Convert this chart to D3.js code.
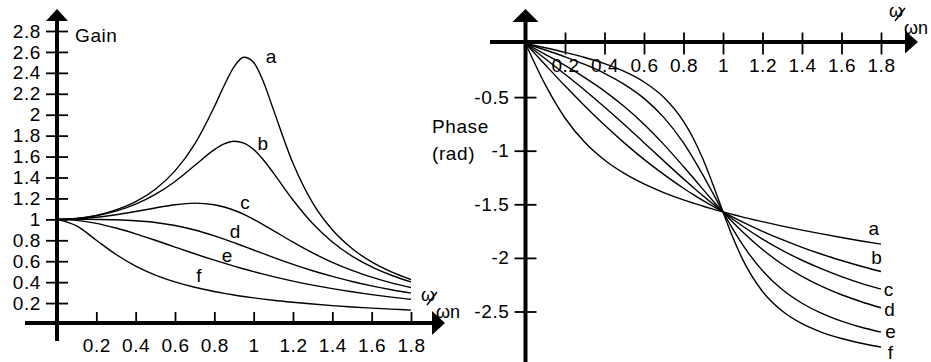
<!DOCTYPE html>
<html>
<head>
<meta charset="utf-8">
<script src="https://cdn.jsdelivr.net/npm/d3@7"></script>
<style>
  html, body { margin: 0; padding: 0; background: #fff; }
  svg { display: block; }
  text { font-family: "Liberation Sans", Arial, sans-serif; fill: #000; }
</style>
</head>
<body>
<svg id="chart" width="931" height="362"></svg>
<script>
// ---------- data ----------
const ratio = [0, 0.1, 0.2, 0.3, 0.4, 0.5, 0.6, 0.7, 0.8, 0.85, 0.9, 0.95, 1.0, 1.05, 1.1, 1.2, 1.3, 1.4, 1.5, 1.6, 1.7, 1.8];

const gainA = [1, 1.009, 1.038, 1.090, 1.169, 1.288, 1.463, 1.719, 2.076, 2.279, 2.457, 2.549, 2.5, 2.313, 2.051, 1.536, 1.157, 0.900, 0.721, 0.593, 0.498, 0.425];
const gainB = [1, 1.008, 1.034, 1.078, 1.145, 1.238, 1.362, 1.514, 1.667, 1.722, 1.747, 1.729, 1.667, 1.567, 1.444, 1.185, 0.960, 0.784, 0.649, 0.546, 0.466, 0.402];
const gainC = [1, 1.005, 1.020, 1.044, 1.075, 1.109, 1.140, 1.155, 1.140, 1.118, 1.087, 1.047, 1.0, 0.948, 0.893, 0.782, 0.679, 0.589, 0.512, 0.448, 0.393, 0.348];
const gainD = [1, 1.0, 0.999, 0.996, 0.987, 0.970, 0.941, 0.898, 0.842, 0.811, 0.777, 0.742, 0.707, 0.672, 0.637, 0.570, 0.509, 0.455, 0.406, 0.364, 0.327, 0.295];
const gainE = [1, 0.990, 0.962, 0.917, 0.862, 0.8, 0.735, 0.671, 0.610, 0.581, 0.553, 0.526, 0.5, 0.476, 0.453, 0.410, 0.372, 0.338, 0.308, 0.281, 0.257, 0.236];
const gainF = [1, 0.937, 0.800, 0.664, 0.553, 0.468, 0.403, 0.351, 0.311, 0.293, 0.277, 0.263, 0.25, 0.238, 0.227, 0.208, 0.191, 0.176, 0.163, 0.152, 0.142, 0.133];

const phaseA = [0, -0.384, -0.695, -0.922, -1.087, -1.212, -1.310, -1.391, -1.459, -1.489, -1.518, -1.545, -1.571, -1.595, -1.619, -1.662, -1.703, -1.741, -1.776, -1.810, -1.842, -1.872];
const phaseB = [0, -0.199, -0.395, -0.583, -0.761, -0.927, -1.081, -1.221, -1.350, -1.409, -1.466, -1.520, -1.571, -1.620, -1.666, -1.752, -1.830, -1.901, -1.966, -2.024, -2.078, -2.127];
const phaseC = [0, -0.142, -0.287, -0.436, -0.593, -0.756, -0.925, -1.095, -1.263, -1.344, -1.423, -1.498, -1.571, -1.640, -1.705, -1.825, -1.930, -2.022, -2.103, -2.174, -2.237, -2.292];
const phaseD = [0, -0.101, -0.205, -0.319, -0.444, -0.588, -0.753, -0.941, -1.148, -1.255, -1.363, -1.469, -1.571, -1.668, -1.759, -1.922, -2.059, -2.172, -2.266, -2.344, -2.409, -2.465];
const phaseE = [0, -0.061, -0.124, -0.195, -0.278, -0.381, -0.512, -0.689, -0.927, -1.073, -1.232, -1.401, -1.571, -1.732, -1.879, -2.119, -2.295, -2.423, -2.518, -2.590, -2.647, -2.692];
const phaseF = [0, -0.040, -0.083, -0.131, -0.188, -0.261, -0.359, -0.502, -0.727, -0.886, -1.085, -1.320, -1.571, -1.810, -2.016, -2.313, -2.496, -2.614, -2.694, -2.752, -2.796, -2.831];

const curveNames = ["a", "b", "c", "d", "e", "f"];
const gainSeries = [gainA, gainB, gainC, gainD, gainE, gainF];
const phaseSeries = [phaseA, phaseB, phaseC, phaseD, phaseE, phaseF];

const ratioTicks = [0.2, 0.4, 0.6, 0.8, 1, 1.2, 1.4, 1.6, 1.8];
const gainTicks = [0.2, 0.4, 0.6, 0.8, 1, 1.2, 1.4, 1.6, 1.8, 2, 2.2, 2.4, 2.6, 2.8];
const phaseTicks = [-0.5, -1, -1.5, -2, -2.5];

// ---------- layout (annotation anchors, in data units) ----------
const gainLabelAt = [[1.088, 2.56], [1.047, 1.73], [0.956, 1.166], [0.905, 0.889], [0.864, 0.66], [0.722, 0.468]];
const phaseLabelAt = [[1.763, -1.726], [1.778, -1.996], [1.838, -2.295], [1.843, -2.481], [1.848, -2.687], [1.848, -2.883]];

const svg = d3.select("#chart");
svg.append("rect").attr("width", 931).attr("height", 362).attr("fill", "#fff");

const FS = 19;
const LS = "0.6px";
const fmt = d => String(d);

const xG = d3.scaleLinear().domain([0, 1.8]).range([57, 411]);
const yG = d3.scaleLinear().domain([0, 2.8]).range([324, 31]);
const xP = d3.scaleLinear().domain([0, 1.8]).range([525.5, 881]);
const yP = d3.scaleLinear().domain([0, -2.5]).range([43.5, 311.5]);

function styleAxis(g) {
  g.select(".domain").remove();
  g.selectAll(".tick line").attr("stroke", "#000").attr("stroke-width", 1.8);
  g.selectAll(".tick text").attr("font-size", FS).attr("letter-spacing", LS)
    .attr("font-family", '"Liberation Sans", Arial, sans-serif').attr("fill", "#000");
}

// ---------- LEFT: Gain ----------
const gL = svg.append("g");
const axXL = gL.append("g").attr("transform", `translate(0,${yG(0)})`)
  .call(d3.axisBottom(xG).tickValues(ratioTicks).tickFormat(fmt).tickSizeInner(-12).tickSizeOuter(0).tickPadding(15));
styleAxis(axXL);
const axYL = gL.append("g").attr("transform", `translate(${xG(0)},0)`)
  .call(d3.axisLeft(yG).tickValues(gainTicks).tickFormat(fmt).tickSizeInner(11).tickSizeOuter(0).tickPadding(5));
styleAxis(axYL);
axYL.selectAll(".tick line").attr("x1", 11);

gL.append("line").attr("x1", xG(0)).attr("x2", xG(0)).attr("y1", 341).attr("y2", 18).attr("stroke", "#000").attr("stroke-width", 4);
gL.append("path").attr("d", `M${xG(0)},9 L${xG(0) - 11},21 L${xG(0) + 11},21 Z`).attr("fill", "#000");
gL.append("line").attr("x1", 25).attr("x2", 434).attr("y1", yG(0) - 1).attr("y2", yG(0) - 1).attr("stroke", "#000").attr("stroke-width", 4);
gL.append("path").attr("d", `M445,${yG(0) - 1} L432,${yG(0) - 13} L432,${yG(0) + 11} Z`).attr("fill", "#000");

const lineG = d3.line().x((d, i) => xG(ratio[i])).y(d => yG(d)).curve(d3.curveMonotoneX);
gL.selectAll("path.gain").data(gainSeries).join("path").attr("class", "gain")
  .attr("d", lineG).attr("fill", "none").attr("stroke", "#000").attr("stroke-width", 1.4);

gL.selectAll("text.glab").data(curveNames).join("text").attr("class", "glab")
  .attr("x", (d, i) => xG(gainLabelAt[i][0])).attr("y", (d, i) => yG(gainLabelAt[i][1]))
  .attr("dy", "0.35em").attr("text-anchor", "middle").attr("font-size", FS).text(d => d);

gL.append("text").attr("x", 75).attr("y", 42).attr("font-size", FS).attr("letter-spacing", LS).text("Gain");

function omegaLabel(g, x, y) {
  g.append("text").attr("x", x).attr("y", y).attr("font-size", 18).text("ω");
  g.append("line").attr("x1", x + 6).attr("y1", y + 4).attr("x2", x + 16).attr("y2", y - 9).attr("stroke", "#000").attr("stroke-width", 1.4);
  g.append("text").attr("x", x + 15).attr("y", y + 17).attr("font-size", 18).text("ωn");
}
omegaLabel(gL, 421, 301);

// ---------- RIGHT: Phase ----------
const gR = svg.append("g");
const axXR = gR.append("g").attr("transform", `translate(0,${yP(0)})`)
  .call(d3.axisBottom(xP).tickValues(ratioTicks).tickFormat(fmt).tickSizeInner(11).tickSizeOuter(0).tickPadding(4));
styleAxis(axXR);
axXR.selectAll(".tick line").attr("y1", -11);

const axYR = gR.append("g").attr("transform", `translate(${xP(0)},0)`)
  .call(d3.axisLeft(yP).tickValues(phaseTicks).tickFormat(fmt).tickSizeInner(11).tickSizeOuter(0).tickPadding(5));
styleAxis(axYR);
axYR.selectAll(".tick line").attr("x1", 11);

gR.append("line").attr("x1", xP(0)).attr("x2", xP(0)).attr("y1", 362).attr("y2", 18).attr("stroke", "#000").attr("stroke-width", 4);
gR.append("path").attr("d", `M${xP(0)},9 L${xP(0) - 13},22 L${xP(0) + 13},22 Z`).attr("fill", "#000");
gR.append("line").attr("x1", 490).attr("x2", 906).attr("y1", yP(0) - 1.5).attr("y2", yP(0) - 1.5).attr("stroke", "#000").attr("stroke-width", 4);
gR.append("path").attr("d", `M918,${yP(0) - 1.5} L905,${yP(0) - 13} L905,${yP(0) + 10} Z`).attr("fill", "#000");

const lineP = d3.line().x((d, i) => xP(ratio[i])).y(d => yP(d)).curve(d3.curveMonotoneX);
gR.selectAll("path.phase").data(phaseSeries).join("path").attr("class", "phase")
  .attr("d", lineP).attr("fill", "none").attr("stroke", "#000").attr("stroke-width", 1.4);

gR.selectAll("text.plab").data(curveNames).join("text").attr("class", "plab")
  .attr("x", (d, i) => xP(phaseLabelAt[i][0])).attr("y", (d, i) => yP(phaseLabelAt[i][1]))
  .attr("dy", "0.35em").attr("text-anchor", "middle").attr("font-size", FS).text(d => d);

gR.append("text").attr("x", 432).attr("y", 133).attr("font-size", FS).attr("letter-spacing", LS).text("Phase");
gR.append("text").attr("x", 432).attr("y", 160).attr("font-size", FS).attr("letter-spacing", LS).text("(rad)");

omegaLabel(gR, 889, 17);
</script>
</body>
</html>
